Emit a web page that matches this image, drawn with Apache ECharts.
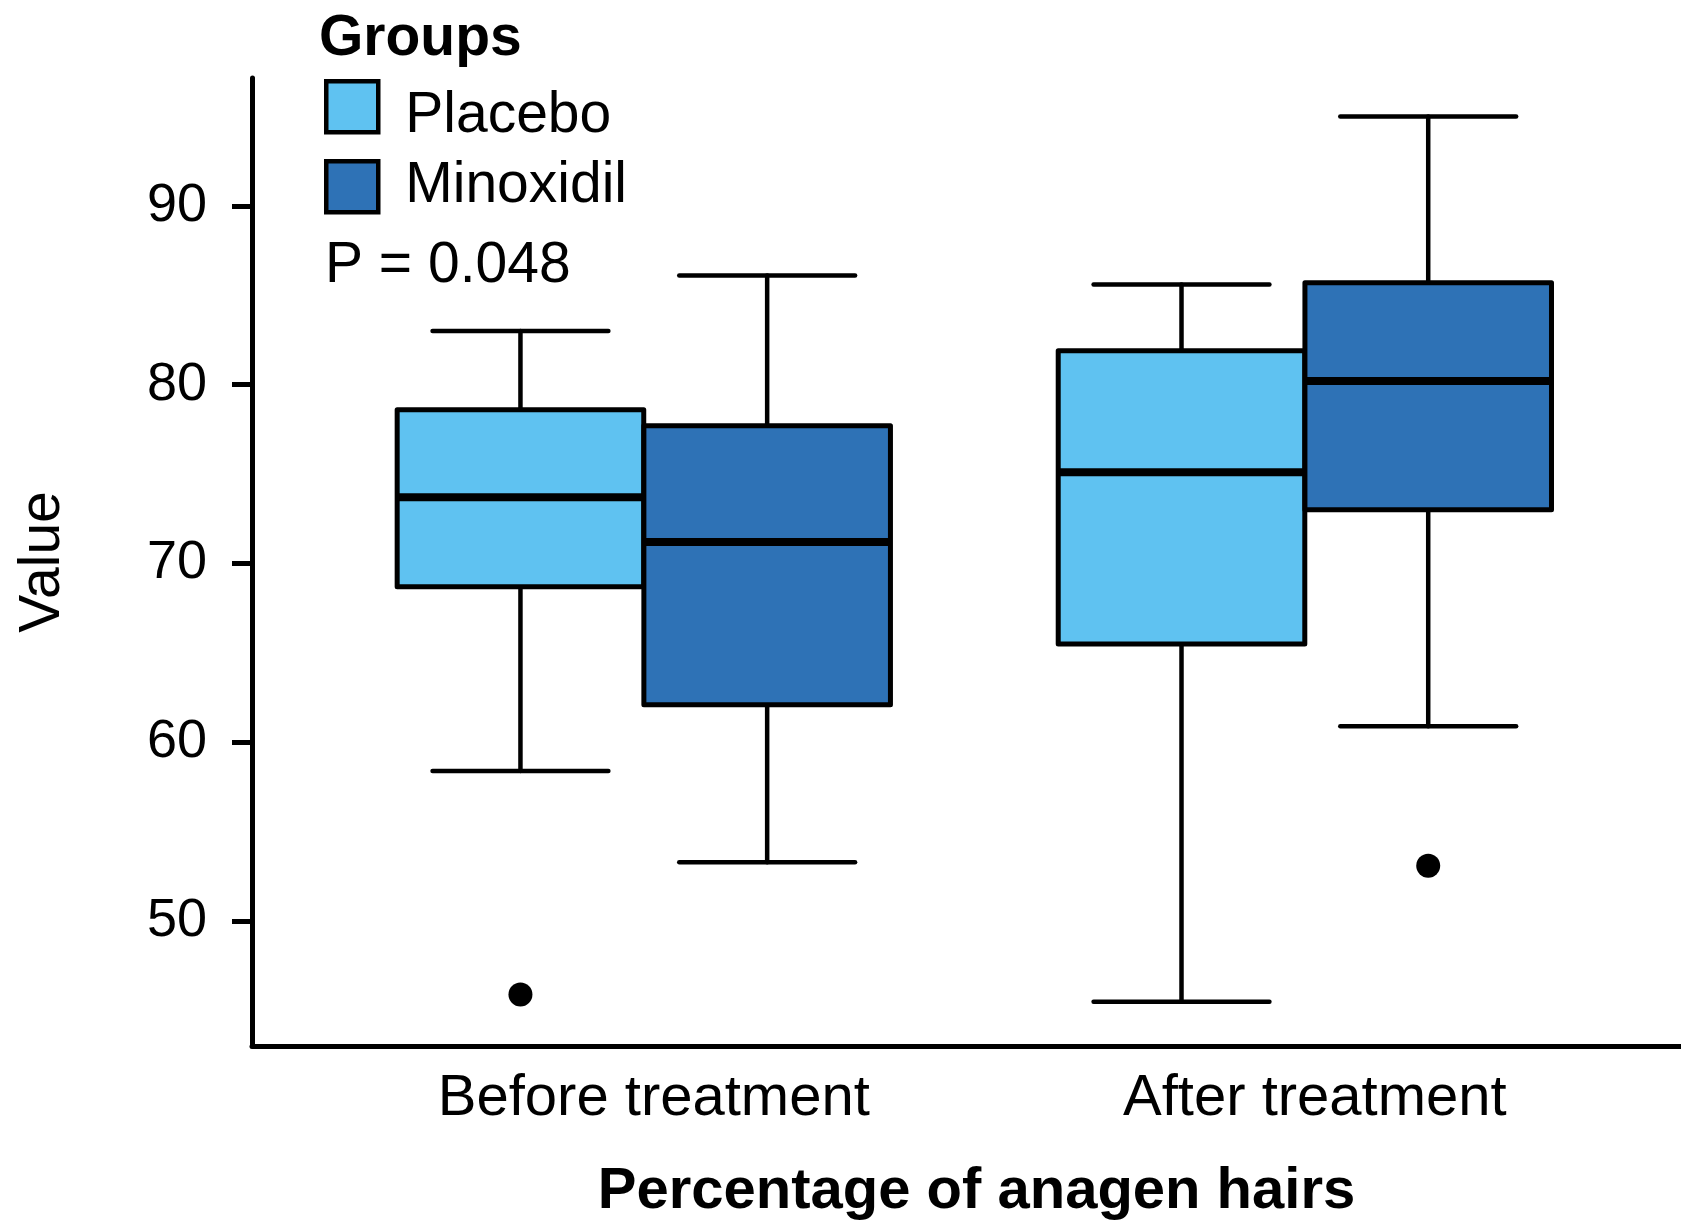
<!DOCTYPE html>
<html lang="en">
<head>
    <meta charset="UTF-8">
    <title>Percentage of anagen hairs</title>
    <script src="https://cdn.jsdelivr.net/npm/echarts@6/dist/echarts.min.js"></script>
</head>
<body style="margin: 0;width: 1681px;height: 1226px;background: #fff">
    <div id="container" style="width: 1681px;height: 1226px"></div>
</body>
<script>
    // data: [lower whisker, Q1, median, Q3, upper whisker]
    var categories = ['Before treatment', 'After treatment'];
    var groups = ['Placebo', 'Minoxidil'];
    var placeboStats = [
        [58.4, 68.7, 73.7, 78.6, 83.0],
        [45.5, 65.5, 75.1, 81.9, 85.6]
    ];
    var minoxidilStats = [
        [53.3, 62.1, 71.2, 77.7, 86.1],
        [60.9, 73.0, 80.2, 85.7, 95.0]
    ];
    // [category index, value]
    var placeboOutliers = [[0, 45.9]];
    var minoxidilOutliers = [[1, 53.1]];
    var yTicks = [50, 60, 70, 80, 90];

    var colors = ['#5FC2F1', '#2E72B6'];
    var font = "'Liberation Sans', Arial, Helvetica, sans-serif";
    var boxWidth = 0.373;
    var capWidth = 0.266;
    var offsets = [-0.1866, 0.1866];

    function boxData(stats) {
        return stats.map(function (s, i) {
            return [i].concat(s);
        });
    }
    function outlierData(list, g) {
        return list.map(function (o) {
            return [o[0] + 1 + offsets[g], o[1]];
        });
    }

    function makeRender(g) {
        return function (params, api) {
            var cx = api.value(0) + 1 + offsets[g];
            var halfW = api.size([boxWidth, 0])[0] / 2;
            var capHalf = api.size([capWidth, 0])[0] / 2;
            var pLow = api.coord([cx, api.value(1)]);
            var pQ1 = api.coord([cx, api.value(2)]);
            var pMed = api.coord([cx, api.value(3)]);
            var pQ3 = api.coord([cx, api.value(4)]);
            var pHigh = api.coord([cx, api.value(5)]);
            var line = {stroke: '#000', lineWidth: 4.5, lineCap: 'round'};
            return {
                type: 'group',
                children: [
                    {type: 'line', shape: {x1: pLow[0], y1: pLow[1], x2: pQ1[0], y2: pQ1[1]}, style: line},
                    {type: 'line', shape: {x1: pQ3[0], y1: pQ3[1], x2: pHigh[0], y2: pHigh[1]}, style: line},
                    {type: 'line', shape: {x1: pLow[0] - capHalf, y1: pLow[1], x2: pLow[0] + capHalf, y2: pLow[1]}, style: line},
                    {type: 'line', shape: {x1: pHigh[0] - capHalf, y1: pHigh[1], x2: pHigh[0] + capHalf, y2: pHigh[1]}, style: line},
                    {
                        type: 'rect',
                        shape: {x: pQ3[0] - halfW, y: pQ3[1], width: halfW * 2, height: pQ1[1] - pQ3[1]},
                        style: {fill: colors[g], stroke: '#000', lineWidth: 5, lineJoin: 'round'}
                    },
                    {
                        type: 'line',
                        shape: {x1: pMed[0] - halfW, y1: pMed[1], x2: pMed[0] + halfW, y2: pMed[1]},
                        style: {stroke: '#000', lineWidth: 8}
                    }
                ]
            };
        };
    }

    var dom = document.getElementById('container');
    var myChart = echarts.init(dom, null, {renderer: 'canvas'});

    var option = {
        animation: false,
        backgroundColor: '#fff',
        textStyle: {fontFamily: font, color: '#000'},
        title: [{
            text: 'Groups',
            left: 319,
            top: 11,
            padding: 0,
            textStyle: {fontFamily: font, fontSize: 57, fontWeight: 'bold', color: '#000', lineHeight: 57}
        }, {
            text: 'P = 0.048',
            left: 325,
            top: 238,
            padding: 0,
            textStyle: {fontFamily: font, fontSize: 57, fontWeight: 'normal', color: '#000', lineHeight: 57}
        }],
        legend: {
            data: groups,
            orient: 'vertical',
            left: 324,
            top: 79,
            padding: 0,
            itemWidth: 52,
            itemHeight: 51,
            itemGap: 13,
            icon: 'rect',
            selectedMode: false,
            itemStyle: {borderColor: '#000', borderWidth: 4.5},
            formatter: function (name) {
                return (name === groups[0] ? '{a|' : '{b|') + name + '}';
            },
            textStyle: {
                fontFamily: font,
                fontSize: 57,
                color: '#000',
                rich: {
                    a: {fontFamily: font, fontSize: 57, color: '#000', padding: [20, 0, 0, 22]},
                    b: {fontFamily: font, fontSize: 57, color: '#000', padding: [0, 0, 0, 22]}
                }
            }
        },
        grid: {left: 252, right: 0, top: 78, bottom: 177},
        xAxis: {
            type: 'value',
            min: 0.4073,
            max: 2.569,
            name: 'Percentage of anagen hairs',
            nameLocation: 'middle',
            nameGap: 117,
            nameTextStyle: {fontFamily: font, fontSize: 58, fontWeight: 'bold', color: '#000', padding: [0, 0, 0, 20]},
            axisLine: {show: true, lineStyle: {color: '#000', width: 5}},
            axisTick: {show: false},
            splitLine: {show: false},
            axisLabel: {
                customValues: [1, 2],
                margin: 24,
                fontFamily: font,
                fontSize: 58,
                color: '#000',
                padding: [0, 0, 0, 20],
                formatter: function (v) {
                    return categories[Math.round(v) - 1] || '';
                }
            }
        },
        yAxis: {
            type: 'value',
            min: 43.02,
            max: 97.15,
            name: 'Value',
            nameLocation: 'middle',
            nameGap: 180,
            nameTextStyle: {fontFamily: font, fontSize: 57, color: '#000'},
            axisLine: {show: true, lineStyle: {color: '#000', width: 5}},
            axisTick: {show: true, length: 20, customValues: yTicks, lineStyle: {color: '#000', width: 5}},
            splitLine: {show: false},
            axisLabel: {
                customValues: yTicks,
                margin: 45,
                fontFamily: font,
                fontSize: 54,
                color: '#000'
            }
        },
        series: [{
            name: groups[0],
            type: 'custom',
            renderItem: makeRender(0),
            itemStyle: {color: colors[0], borderColor: '#000'},
            encode: {x: 0, y: [1, 2, 3, 4, 5]},
            data: boxData(placeboStats)
        }, {
            name: groups[1],
            type: 'custom',
            renderItem: makeRender(1),
            itemStyle: {color: colors[1], borderColor: '#000'},
            encode: {x: 0, y: [1, 2, 3, 4, 5]},
            data: boxData(minoxidilStats)
        }, {
            name: 'Placebo outliers',
            type: 'scatter',
            symbol: 'circle',
            symbolSize: 24,
            itemStyle: {color: '#000', opacity: 1},
            data: outlierData(placeboOutliers, 0)
        }, {
            name: 'Minoxidil outliers',
            type: 'scatter',
            symbol: 'circle',
            symbolSize: 24,
            itemStyle: {color: '#000', opacity: 1},
            data: outlierData(minoxidilOutliers, 1)
        }]
    };
    myChart.setOption(option, true);
</script>
</html>
